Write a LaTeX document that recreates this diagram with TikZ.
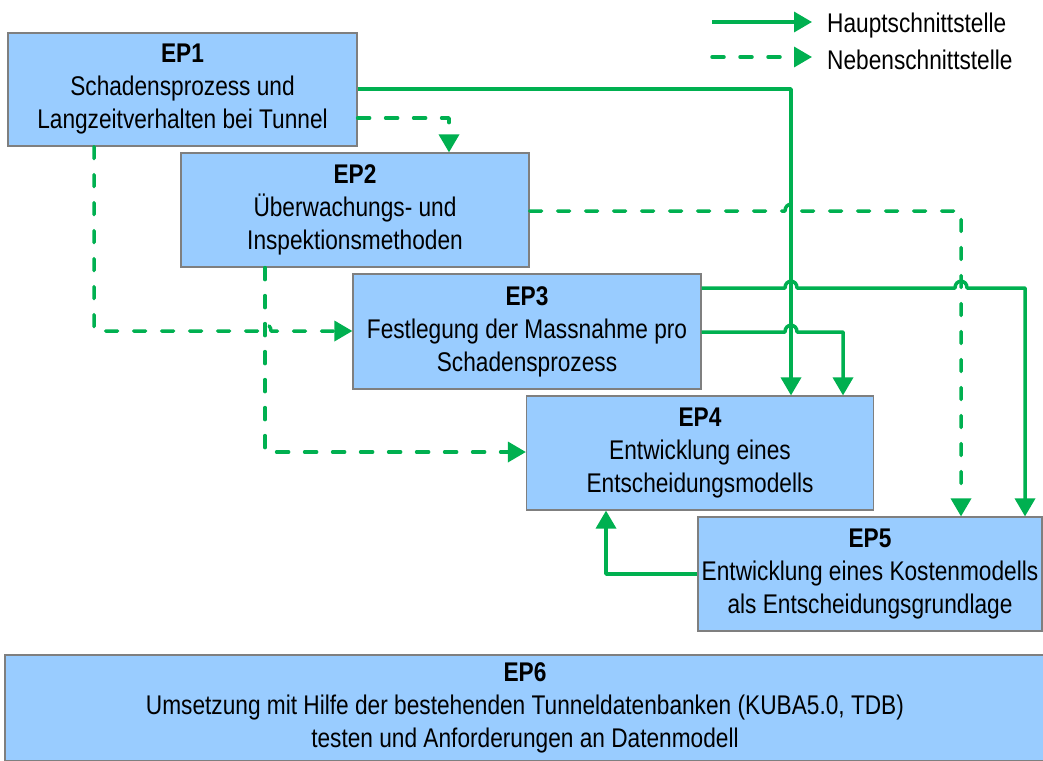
\documentclass[tikz,border=0pt]{standalone}
\usepackage{fontspec}
\setmainfont[FakeStretch=0.84]{Liberation Sans}
\usetikzlibrary{arrows.meta}
\definecolor{boxfill}{HTML}{99CCFF}
\definecolor{boxline}{HTML}{7F7F7F}
\definecolor{grn}{HTML}{00B050}
\begin{document}
\begin{tikzpicture}[x=1pt,y=-1pt,
  box/.style={draw=boxline, line width=1.2pt, fill=boxfill, align=center, inner sep=0pt,
    font=\fontsize{27}{33}\selectfont},
  lbl/.style={anchor=west, inner sep=0pt, font=\fontsize{27}{33}\selectfont},
  main/.style={draw=grn, line width=3.5pt, line join=round, -{Triangle[length=18pt,width=20pt]}},
  aux/.style={main, dash pattern=on 12pt off 16pt, line cap=round}]
\useasboundingbox (0,0) rectangle (1043,760);
% boxes
\node[box, minimum width=349pt, minimum height=113pt] (ep1) at (182.5,89.5)
  {\textbf{EP1}\\Schadensprozess und\\Langzeitverhalten bei Tunnel};
\node[box, minimum width=348pt, minimum height=114pt] (ep2) at (355,210)
  {\textbf{EP2}\\Überwachungs- und\\Inspektionsmethoden};
\node[box, minimum width=348pt, minimum height=115pt] (ep3) at (527,331.5)
  {\textbf{EP3}\\Festlegung der Massnahme pro\\Schadensprozess};
\node[box, minimum width=347pt, minimum height=114pt] (ep4) at (700,453)
  {\textbf{EP4}\\Entwicklung eines\\Entscheidungsmodells};
\node[box, minimum width=344pt, minimum height=114pt] (ep5) at (870,574)
  {\textbf{EP5}\\Entwicklung eines Kostenmodells\\als Entscheidungsgrundlage};
\node[box, minimum width=1040pt, minimum height=106pt] (ep6) at (525,708)
  {\textbf{EP6}\\Umsetzung mit Hilfe der bestehenden Tunneldatenbanken (KUBA5.0, TDB)\\testen und Anforderungen an Datenmodell};
% legend
\coordinate (l1a) at (712,22);
\coordinate (l1b) at (812,22);
\coordinate (l2a) at (712,57);
\coordinate (l2b) at (812,57);
\node[lbl] (t1) at (827,26) {Hauptschnittstelle};
\node[lbl] (t2) at (827,60) {Nebenschnittstelle};
\draw[main] (l1a) -- (l1b);
\draw[aux] (l2a) -- (l2b);
% connectors
\draw[main] (ep1.east |- 0,89) -- (791,89) -- (ep4.north -| 791,0);
\draw[aux] (ep1.east |- 0,118) -- (449,118) -- (ep2.north -| 449,0);
\draw[aux] (ep2.south -| 265,0) -- (265,452) -- (ep4.west |- 0,452);
\draw[aux] (ep1.south -| 94,0) -- (94,331)
  -- (259,331) .. controls (259,322) and (271,322) .. (271,331)
  -- (ep3.west |- 0,331);
\draw[aux] (ep2.east |- 0,211)
  -- (785,211) .. controls (785,202) and (797,202) .. (797,211)
  -- (961,211) -- (ep5.north -| 961,0);
\draw[main] (ep3.east |- 0,288)
  -- (785,288) .. controls (785,279) and (797,279) .. (797,288)
  -- (955,288) .. controls (955,279) and (967,279) .. (967,288)
  -- (1025,288) -- (ep5.north -| 1025,0);
\draw[main] (ep3.east |- 0,332)
  -- (785,332) .. controls (785,323) and (797,323) .. (797,332)
  -- (843,332) -- (ep4.north -| 843,0);
\draw[main] (ep5.west |- 0,574) -- (606,574) -- (ep4.south -| 606,0);
\end{tikzpicture}
\end{document}
